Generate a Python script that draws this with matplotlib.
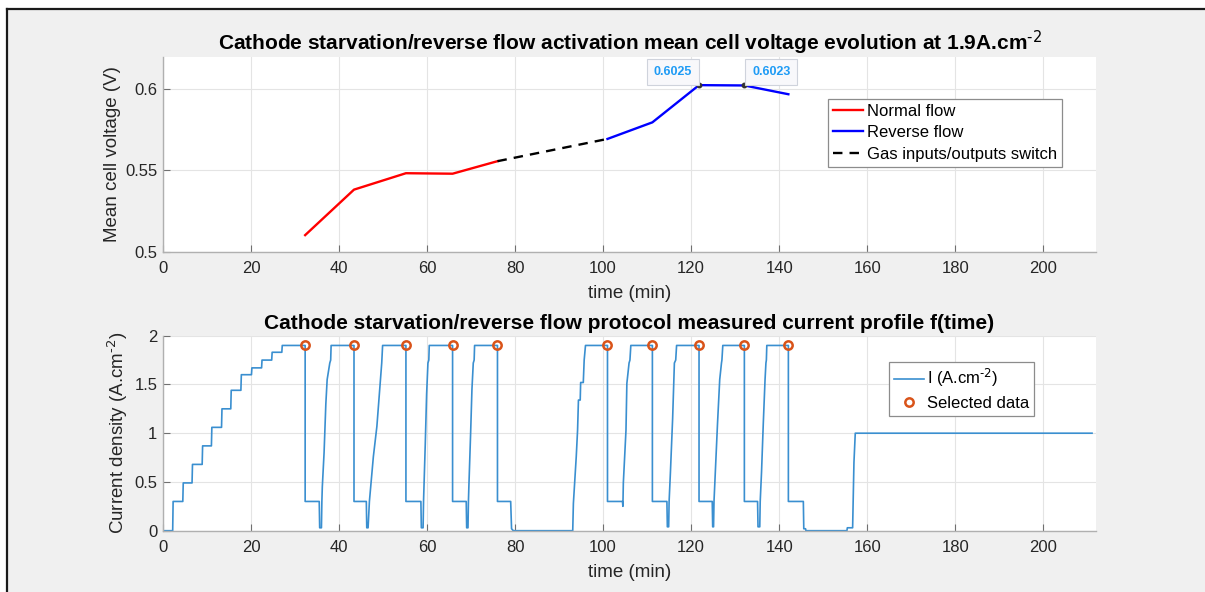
import matplotlib
matplotlib.use("Agg")
import matplotlib.pyplot as plt
from matplotlib.patches import Rectangle
from matplotlib.lines import Line2D

plt.rcParams["font.family"] = ["Liberation Sans", "DejaVu Sans"]
plt.rcParams["mathtext.default"] = "regular"

# ---- mean cell voltage at 1.9 A.cm-2 ----
t_normal = [32.3, 43.4, 55.2, 65.8, 76.0]
v_normal = [0.5102, 0.5382, 0.5483, 0.5480, 0.5557]
t_switch = [76.0, 101.0]
v_switch = [0.5557, 0.5694]
t_reverse = [101.0, 111.2, 121.8, 132.1, 142.1]
v_reverse = [0.5694, 0.5796, 0.6025, 0.6023, 0.5969]
tip_t = [121.8, 132.1]
tip_v = [0.6025, 0.6023]

# ---- measured current profile ----
t_current = [
    0.0, 2.2, 2.3, 4.5, 4.6, 6.6, 6.7, 8.9, 9.0, 11.0, 11.1, 13.3, 13.4,
    15.4, 15.5, 17.7, 17.8, 20.1, 20.2, 22.4, 22.5, 24.7, 24.8, 27.0, 27.1, 32.3,
    32.3, 35.5, 35.6, 36.0, 36.1, 36.2, 36.6, 37.0, 37.3, 37.9, 38.1, 38.2, 43.4,
    43.4, 46.2, 46.3, 46.6, 46.9, 47.2, 47.8, 48.6, 49.3, 49.7, 49.9, 55.2,
    55.2, 58.6, 58.7, 59.1, 59.2, 59.3, 59.6, 59.9, 60.2, 60.4, 60.5, 65.8,
    65.8, 68.9, 69.0, 69.3, 69.4, 69.5, 69.9, 70.2, 70.5, 70.7, 70.8, 76.0,
    76.0, 79.0, 79.2, 79.6, 93.1, 93.25, 93.9, 94.2, 94.4, 94.8, 94.9, 95.5, 95.7, 96.0, 101.0,
    101.0, 104.4, 104.5, 104.6, 105.2, 105.4, 105.9, 106.1, 106.3, 111.2,
    111.2, 114.5, 114.6, 114.9, 115.0, 115.3, 115.8, 116.2, 116.5, 116.7, 121.8,
    121.8, 124.8, 124.9, 125.1, 125.2, 125.5, 126.0, 126.5, 126.9, 127.0, 127.2, 132.1,
    132.1, 135.1, 135.2, 135.6, 135.7, 136.0, 136.4, 136.8, 137.0, 137.1, 137.2, 142.1,
    142.1, 145.5, 145.6, 146.0, 146.1, 155.4, 155.5, 156.7, 157.0, 157.3, 211.1,
]
i_current = [
    0.00, 0.00, 0.30, 0.30, 0.49, 0.49, 0.68, 0.68, 0.87, 0.87, 1.06, 1.06, 1.25,
    1.25, 1.44, 1.44, 1.60, 1.60, 1.67, 1.67, 1.75, 1.75, 1.83, 1.83, 1.90, 1.90,
    0.30, 0.30, 0.03, 0.03, 0.30, 0.45, 0.80, 1.30, 1.55, 1.72, 1.75, 1.90, 1.90,
    0.30, 0.30, 0.03, 0.03, 0.30, 0.45, 0.76, 1.07, 1.48, 1.72, 1.90, 1.90,
    0.30, 0.30, 0.03, 0.03, 0.30, 0.45, 0.90, 1.40, 1.72, 1.75, 1.90, 1.90,
    0.30, 0.30, 0.03, 0.03, 0.30, 0.45, 1.00, 1.45, 1.72, 1.75, 1.90, 1.90,
    0.30, 0.30, 0.02, 0.00, 0.00, 0.28, 0.76, 1.03, 1.34, 1.34, 1.52, 1.52, 1.75, 1.90, 1.90,
    0.30, 0.30, 0.25, 0.49, 1.03, 1.51, 1.72, 1.75, 1.90, 1.90,
    0.30, 0.30, 0.04, 0.04, 0.30, 0.60, 1.15, 1.72, 1.75, 1.90, 1.90,
    0.30, 0.30, 0.04, 0.04, 0.30, 0.60, 1.10, 1.55, 1.72, 1.75, 1.90, 1.90,
    0.30, 0.30, 0.04, 0.04, 0.30, 0.60, 1.10, 1.55, 1.72, 1.75, 1.90, 1.90,
    0.30, 0.30, 0.02, 0.02, 0.00, 0.00, 0.03, 0.03, 0.70, 1.00, 1.00,
]
sel_t = [32.3, 43.4, 55.2, 65.8, 76.0, 101.0, 111.2, 121.8, 132.1, 142.1]
sel_i = [1.9, 1.9, 1.9, 1.9, 1.9, 1.9, 1.9, 1.9, 1.9, 1.9]

x_ticks = [0, 20, 40, 60, 80, 100, 120, 140, 160, 180, 200]
v_ticks = [0.5, 0.55, 0.6]
v_ticklabels = ["0.5", "0.55", "0.6"]
i_ticks = [0, 0.5, 1, 1.5, 2]
i_ticklabels = ["0", "0.5", "1", "1.5", "2"]

W, H = 1205, 592
fig = plt.figure(figsize=(W / 100, H / 100), dpi=100, facecolor="white")
# grey window area with a dark frame on its top and left edges
fig.patches.append(Rectangle((7 / W, 0), 1, 1 - 9 / H, transform=fig.transFigure,
                             facecolor="#f0f0f0", edgecolor="none", zorder=-10))
fig.add_artist(Line2D([7 / W, 1], [1 - 9 / H, 1 - 9 / H], transform=fig.transFigure,
                      color="#1a1a1a", lw=1.6))
fig.add_artist(Line2D([7 / W, 7 / W], [0, 1 - 9 / H], transform=fig.transFigure,
                      color="#1a1a1a", lw=1.6))

axcol = "#262626"
spinecol = "#b0b0b0"


def style_axes(ax):
    ax.set_facecolor("white")
    for s in ("top", "right"):
        ax.spines[s].set_visible(False)
    for s in ("left", "bottom"):
        ax.spines[s].set_color(spinecol)
        ax.spines[s].set_linewidth(1.0)
    ax.tick_params(direction="in", length=5, width=0.8, color="#707070",
                   labelcolor=axcol, labelsize=12)
    ax.tick_params(axis="x", pad=7)
    ax.tick_params(axis="y", pad=4)
    ax.grid(True, color="#e4e4e4", linewidth=0.8)
    ax.set_axisbelow(True)
    ax.set_xlim(0, 212)
    ax.set_xticks(x_ticks)


def style_legend(leg):
    frame = leg.get_frame()
    frame.set_linewidth(0.9)
    for txt in leg.get_texts():
        txt.set_color("black")


left = 163 / W
width = (1096 - 163) / W
ax_h = 195 / H
leg_kw = dict(loc="upper left", fontsize=12, frameon=True, fancybox=False,
              framealpha=1, edgecolor="#8c8c8c", borderaxespad=0,
              handlelength=1.8, handletextpad=0.2, labelspacing=0.4,
              borderpad=0.3)

# ---- voltage evolution ----
ax1 = fig.add_axes([left, (H - 251.7) / H, width, ax_h])
style_axes(ax1)
ax1.plot(t_normal, v_normal, color="red", lw=1.7, label="Normal flow")
ax1.plot(t_reverse, v_reverse, color="blue", lw=1.7, label="Reverse flow")
ax1.plot(t_switch, v_switch, color="black", lw=1.7, ls=(0, (4, 3)),
         label="Gas inputs/outputs switch")
ax1.set_ylim(0.5, 0.62)
ax1.set_yticks(v_ticks)
ax1.set_yticklabels(v_ticklabels)
ax1.set_xlabel("time (min)", fontsize=13.5, color=axcol, labelpad=6)
ax1.set_ylabel("Mean cell voltage (V)", fontsize=13.5, color=axcol, labelpad=3)
ax1.set_title(r"Cathode starvation/reverse flow activation mean cell voltage evolution at 1.9A.cm$^{\text{-2}}$",
              fontsize=15, fontweight="bold", color="black", pad=5)
ax1.plot(tip_t, tip_v, ls="none", marker="o", ms=3.2, color="#333333", zorder=5)
for k, (tt, vv) in enumerate(zip(tip_t, tip_v)):
    if k == 0:
        off, ha = (-5.2, 5.2), "right"
    else:
        off, ha = (5.5, 5.2), "left"
    ax1.annotate(f"{vv:.4f}", (tt, vv), xytext=off, textcoords="offset points",
                 ha=ha, va="bottom", fontsize=9, fontweight="bold", color="#1e9bf5",
                 bbox=dict(boxstyle="square,pad=0.55", facecolor="#f8f8fb",
                           edgecolor="#cfd3dc", linewidth=0.8),
                 annotation_clip=False, zorder=6)
leg1 = ax1.legend(bbox_to_anchor=(0.713, 0.785), **leg_kw)
style_legend(leg1)

# ---- current profile ----
ax2 = fig.add_axes([left, (H - 530.7) / H, width, ax_h])
style_axes(ax2)
ax2.plot(t_current, i_current, color="#3a8fd0", lw=1.2, label=r"I (A.cm$^{\text{-2}}$)")
ax2.plot(sel_t, sel_i, ls="none", marker="o", ms=6, mfc="none", mec="#D95319",
         mew=1.8, label="Selected data")
ax2.set_ylim(0, 2)
ax2.set_yticks(i_ticks)
ax2.set_yticklabels(i_ticklabels)
ax2.set_xlabel("time (min)", fontsize=13.5, color=axcol, labelpad=6)
ax2.set_ylabel(r"Current density (A.cm$^{\text{-2}}$)", fontsize=13.5, color=axcol, labelpad=3)
ax2.set_title("Cathode starvation/reverse flow protocol measured current profile f(time)",
              fontsize=15, fontweight="bold", color="black", pad=5)
leg2 = ax2.legend(bbox_to_anchor=(0.778, 0.865), **leg_kw)
style_legend(leg2)

fig.savefig("out.png", dpi=100, facecolor=fig.get_facecolor())
